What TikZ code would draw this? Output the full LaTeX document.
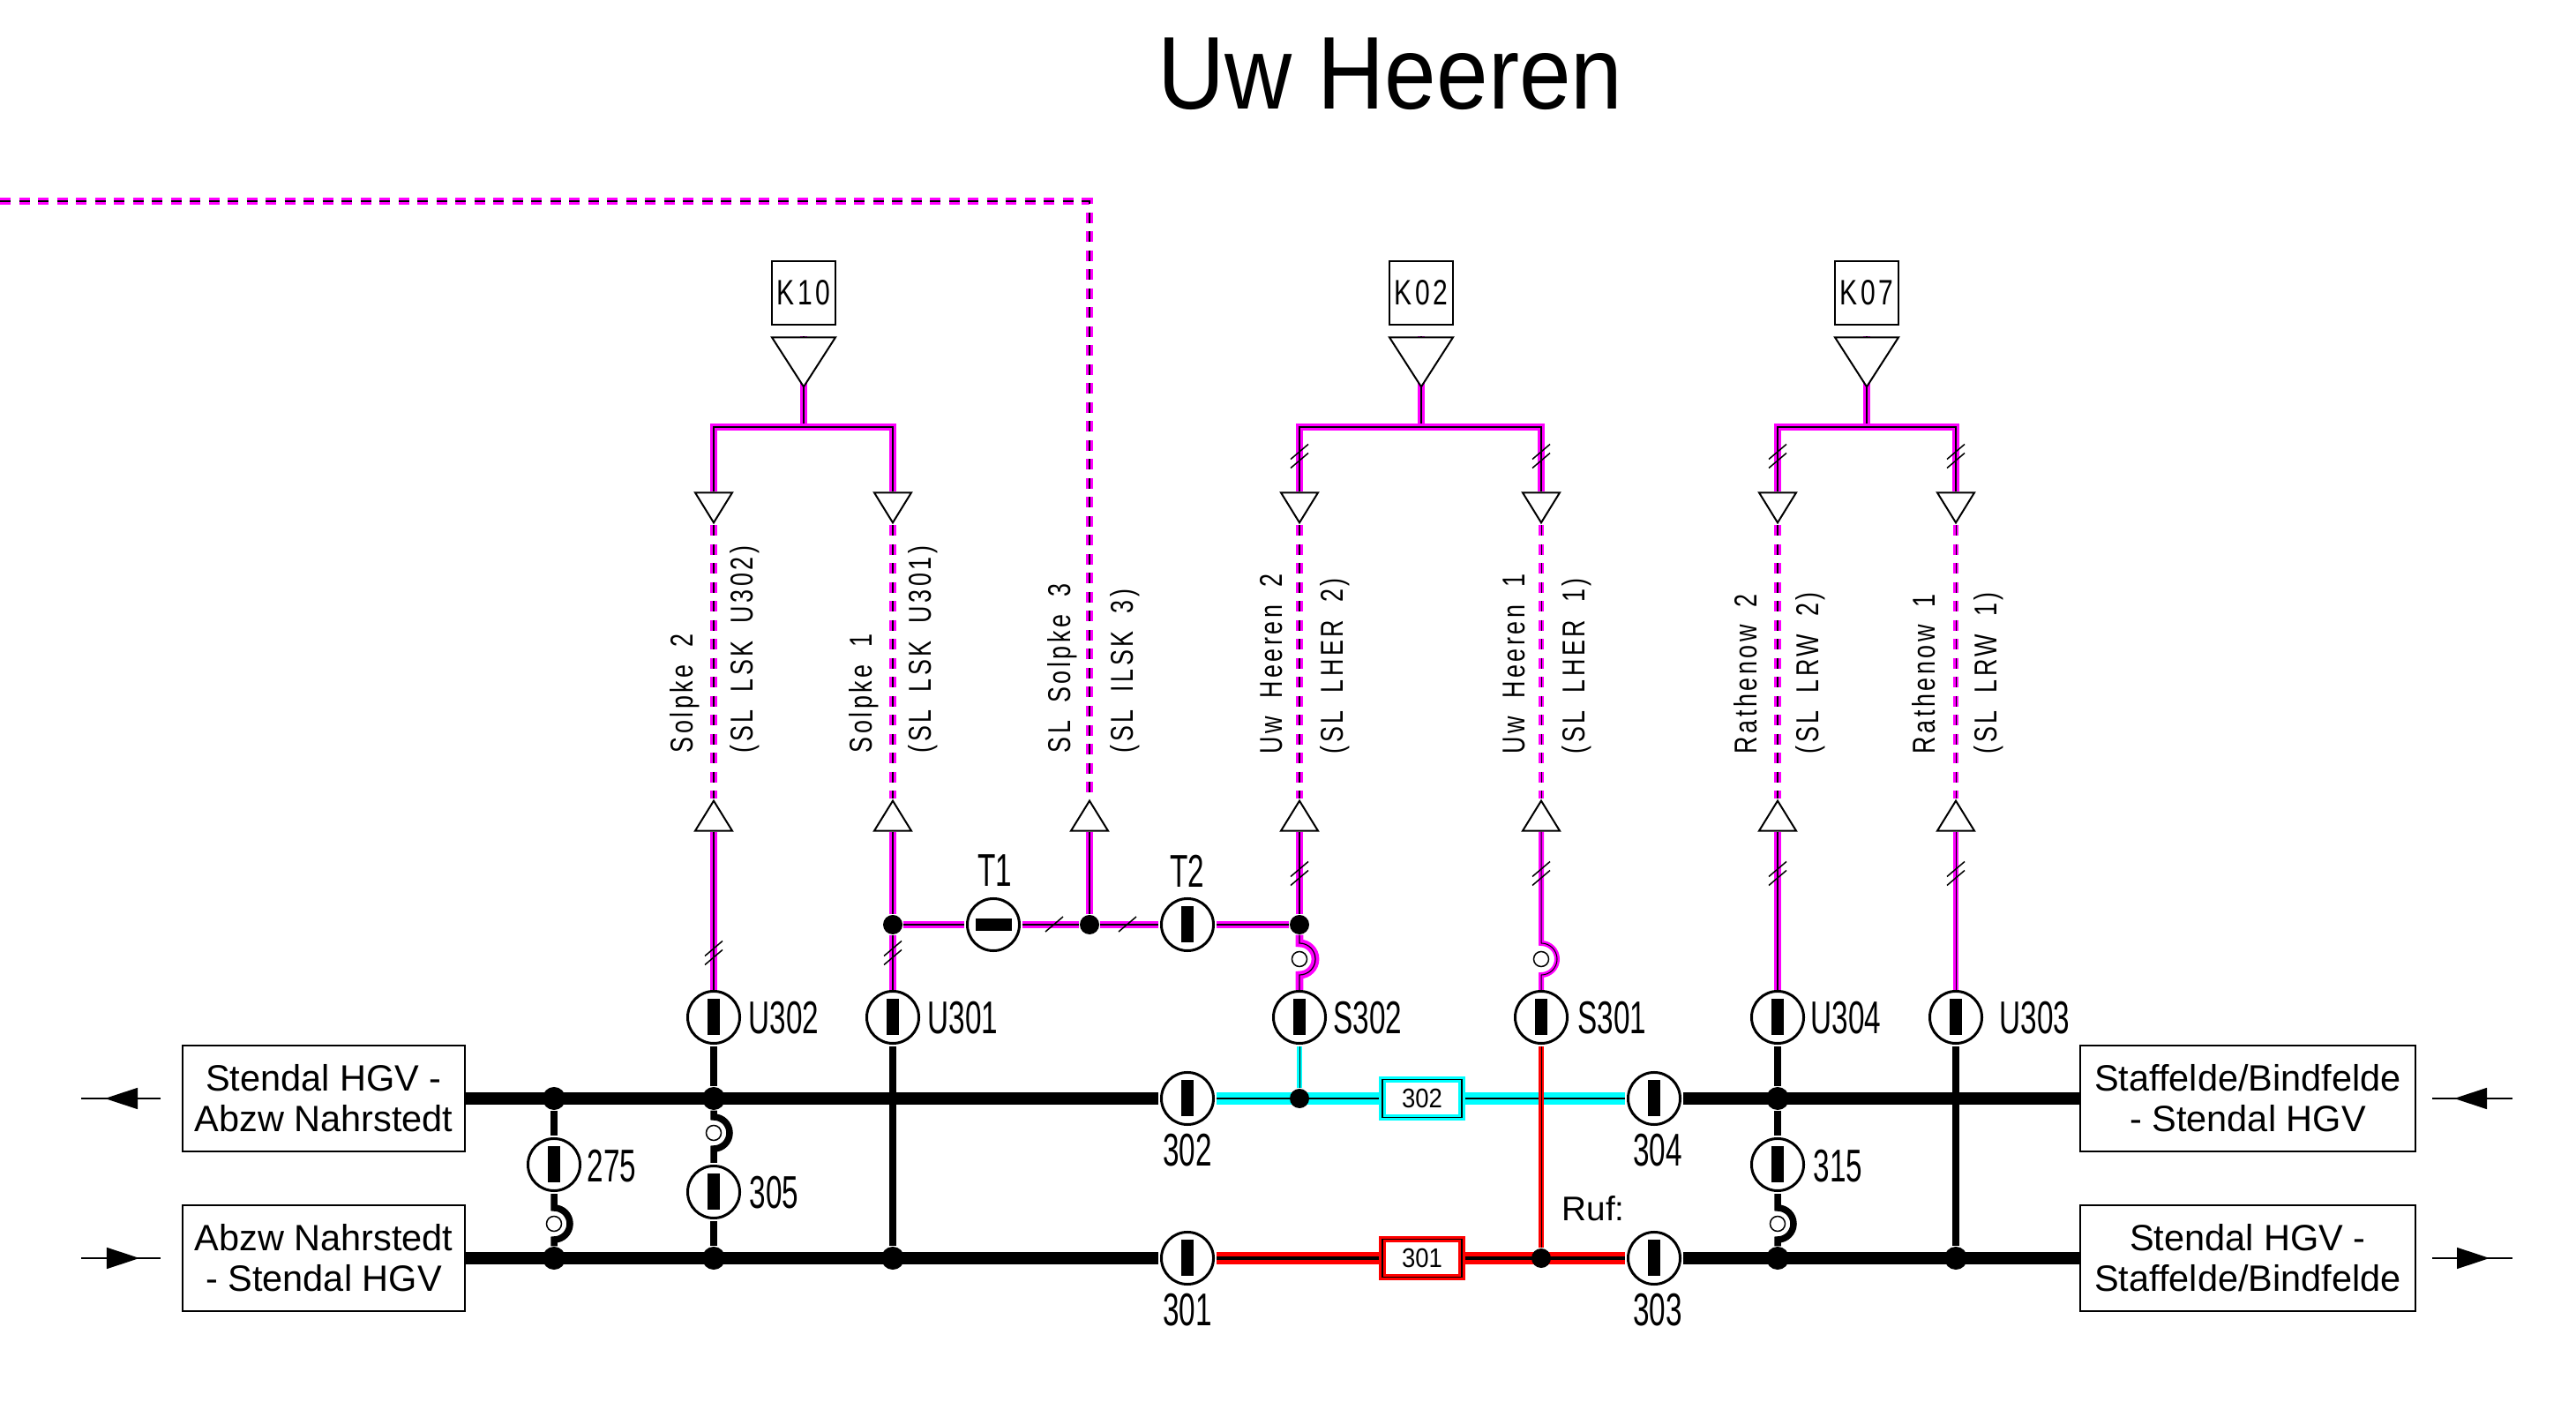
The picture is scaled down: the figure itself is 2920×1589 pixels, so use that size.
\documentclass[tikz,border=0pt]{standalone}
\usepackage{fontspec}
\usetikzlibrary{shapes.geometric,arrows.meta,backgrounds}
\setmainfont{Liberation Sans}
\newfontfamily\narrowfont[FakeStretch=0.64]{Liberation Sans}
\newfontfamily\semifont[FakeStretch=0.9]{Liberation Sans}
\newfontfamily\railfont[FakeStretch=0.75,LetterSpace=10,WordSpace=1.8]{Liberation Sans}
\newfontfamily\kfont[FakeStretch=0.75,LetterSpace=9]{Liberation Sans}
\definecolor{mgcol}{RGB}{255,0,255}
\definecolor{cycol}{RGB}{0,255,255}
\definecolor{rdcol}{RGB}{255,0,0}
\newcommand{\ringline}[4]{\draw[#1] (#2) -- ([yshift=0.18cm]#3.center) arc[start angle=90,end angle=-90,radius=0.18cm] -- (#4);}
\tikzset{
  swv/.style={circle,draw,fill=white,line width=0.03cm,minimum size=0.59cm,inner sep=0pt,outer sep=0.035cm,
    path picture={\fill[black] (path picture bounding box.center) ++(-7,-20.5) rectangle ++(14,41);}},
  swh/.style={circle,draw,fill=white,line width=0.03cm,minimum size=0.59cm,inner sep=0pt,outer sep=0.035cm,
    path picture={\fill[black] (path picture bounding box.center) ++(-20.5,-7) rectangle ++(41,14);}},
  dot/.style={circle,fill=black,minimum size=0.22cm,inner sep=0pt},
  dottrack/.style={circle,fill=black,minimum size=0.26cm,inner sep=0pt},
  ring/.style={circle,draw,fill=white,line width=0.015cm,minimum size=0.17cm,inner sep=0pt},
  stnbox/.style={draw,fill=white,line width=0.025cm,minimum width=3.2cm,minimum height=1.2cm,align=center,inner sep=0pt,font=\fontsize{11.8}{13}\selectfont},
  stnboxr/.style={stnbox,minimum width=3.8cm},
  kbox/.style={draw,fill=white,line width=0.02cm,minimum width=0.72cm,minimum height=0.72cm,inner sep=0pt,font=\kfont\fontsize{11.4}{13}\selectfont},
  trunk/.style={isosceles triangle,isosceles triangle stretches,shape border rotate=-90,draw,fill=white,line width=0.02cm,minimum width=0.72cm,minimum height=0.56cm,inner sep=0pt,anchor=apex},
  tridown/.style={isosceles triangle,isosceles triangle stretches,shape border rotate=-90,draw,fill=white,line width=0.02cm,minimum width=0.42cm,minimum height=0.34cm,inner sep=0pt,anchor=apex},
  triup/.style={isosceles triangle,isosceles triangle stretches,shape border rotate=90,draw,fill=white,line width=0.02cm,minimum width=0.42cm,minimum height=0.34cm,inner sep=0pt,anchor=apex},
  lab/.style={inner sep=0pt,font=\narrowfont\fontsize{14.8}{17}\selectfont},
  raillab/.style={rotate=90,anchor=base west,inner sep=0pt,font=\railfont\fontsize{10.2}{12}\selectfont},
  cybox/.style={draw=cycol,double=black,double distance=0.012cm,line width=0.03cm,fill=white,minimum width=0.9cm,minimum height=0.43cm,inner sep=0pt,font=\semifont\fontsize{8.7}{10}\selectfont},
  rdbox/.style={cybox,draw=rdcol},
  track/.style={line width=0.14cm},
  branch/.style={line width=0.075cm},
  mgline/.style={draw=mgcol,double=black,double distance=0.012cm,line width=0.038cm},
  mgthin/.style={draw=mgcol,double=black,double distance=0.01cm,line width=0.025cm},
  mgdash/.style={mgline,dash pattern=on 0.12cm off 0.095cm},
  mgthindash/.style={mgthin,dash pattern=on 0.12cm off 0.095cm},
  tosw/.style={shorten >=-0.02cm},
  cytrack/.style={draw=cycol,double=black,double distance=0.014cm,line width=0.063cm},
  cybranch/.style={draw=cycol,double=black,double distance=0.01cm,line width=0.025cm},
  rdtrack/.style={draw=rdcol,double=black,double distance=0.03cm,line width=0.055cm},
  rdbranch/.style={draw=rdcol,double=black,double distance=0.01cm,line width=0.025cm},
  dirline/.style={line width=0.015cm},
  dirtip/.style={dirline,-{Triangle[length=0.37cm,width=0.24cm]}},
  tick/.style={line width=0.015cm}
}
\begin{document}
\begin{tikzpicture}[x=0.01cm,y=-0.01cm]
    \useasboundingbox (0,0) rectangle (2920,1589);
    \node[font=\semifont\fontsize{33.3}{40}\selectfont] (title) at (1576,84) {Uw Heeren};

    % stations
    \node[stnbox] (bhlo) at (367,1245) {Stendal HGV -\\Abzw Nahrstedt};
    \node[stnbox] (bhlu) at (367,1426) {Abzw Nahrstedt\\- Stendal HGV};
    \node[stnboxr] (bhro) at (2548,1245) {Staffelde/Bindfelde\\- Stendal HGV};
    \node[stnboxr] (bhru) at (2548,1426) {Stendal HGV -\\Staffelde/Bindfelde};

    % switches
    \node[swv] (u302) at (809,1153) {};
    \node[swv] (u301) at (1012,1153) {};
    \node[swv] (s302) at (1473,1153) {};
    \node[swv] (s301) at (1747,1153) {};
    \node[swv] (u304) at (2015,1153) {};
    \node[swv] (u303) at (2217,1153) {};
    \node[swh] (t1) at (1126,1048) {};
    \node[swv] (t2) at (1346,1048) {};
    \node[swv] (c302) at (1346,1245) {};
    \node[swv] (c304) at (1875,1245) {};
    \node[swv] (c301) at (1346,1426) {};
    \node[swv] (c303) at (1875,1426) {};
    \node[swv] (c275) at (628,1320) {};
    \node[swv] (c305) at (809,1351) {};
    \node[swv] (c315) at (2015,1320) {};

    % labels of the switches
    \node[lab,anchor=west] (lu302) at (848,1154) {U302};
    \node[lab,anchor=west] (lu301) at (1051,1154) {U301};
    \node[lab,anchor=west] (ls302) at (1511,1154) {S302};
    \node[lab,anchor=west] (ls301) at (1788,1154) {S301};
    \node[lab,anchor=west] (lu304) at (2052,1154) {U304};
    \node[lab,anchor=west] (lu303) at (2266,1154) {U303};
    \node[lab] (lt1) at (1128,987) {T1};
    \node[lab] (lt2) at (1346,987) {T2};
    \node[lab] (l302) at (1346,1304) {302};
    \node[lab] (l304) at (1879,1304) {304};
    \node[lab] (l301) at (1346,1485) {301};
    \node[lab] (l303) at (1879,1485) {303};
    \node[lab,anchor=west] (l275) at (665,1322) {275};
    \node[lab,anchor=west] (l305) at (849,1352) {305};
    \node[lab,anchor=west] (l315) at (2055,1322) {315};
    \node[anchor=west,inner sep=0pt,font=\fontsize{11}{13}\selectfont] (lruf) at (1770,1370) {Ruf:};

    % junctions
    \node[dottrack] (du275) at (628,1245) {};
    \node[dottrack] (du305) at (809,1245) {};
    \node[dottrack] (du315) at (2015,1245) {};
    \node[dottrack] (dl275) at (628,1426) {};
    \node[dottrack] (dl305) at (809,1426) {};
    \node[dottrack] (dl301) at (1012,1426) {};
    \node[dottrack] (dl315) at (2015,1426) {};
    \node[dottrack] (dl303) at (2217,1426) {};
    \node[dot] (dts) at (1012,1048) {};
    \node[dot] (dtm) at (1235,1048) {};
    \node[dot] (dte) at (1473,1048) {};
    \node[dot] (dcy) at (1473,1245) {};
    \node[dot] (drd) at (1747,1426) {};
    \node[ring] (r305) at (809,1284) {};
    \node[ring] (r275) at (628,1387) {};
    \node[ring] (r315) at (2015,1387) {};
    \node[ring] (rs302) at (1473,1087) {};
    \node[ring] (rs301) at (1747,1087) {};

    % track sections
    \node[cybox] (b302) at (1612,1245) {302};
    \node[rdbox] (b301) at (1612,1426) {301};

    % cable heads
    \node[kbox] (k10) at (911,332) {K10};
    \node[kbox] (k02) at (1611,332) {K02};
    \node[kbox] (k07) at (2116,332) {K07};
    \node[trunk] (tk10) at (911,441) {};
    \node[trunk] (tk02) at (1611,441) {};
    \node[trunk] (tk07) at (2116,441) {};
    \coordinate (jk10) at (911,484);
    \coordinate (jk02) at (1611,484);
    \coordinate (jk07) at (2116,484);
    \node[tridown] (ds2) at (809,595) {};
    \node[tridown] (ds1) at (1012,595) {};
    \node[tridown] (dh2) at (1473,595) {};
    \node[tridown] (dh1) at (1747,595) {};
    \node[tridown] (dr2) at (2015,595) {};
    \node[tridown] (dr1) at (2217,595) {};
    \node[triup] (us2) at (809,905) {};
    \node[triup] (us1) at (1012,905) {};
    \node[triup] (us3) at (1235,905) {};
    \node[triup] (uh2) at (1473,905) {};
    \node[triup] (uh1) at (1747,905) {};
    \node[triup] (ur2) at (2015,905) {};
    \node[triup] (ur1) at (2217,905) {};
    \coordinate (west) at (0,228);

    % line names
    \node[raillab] (ns2) at (785,854) {Solpke 2};
    \node[raillab] (ms2) at (853,854) {(SL LSK U302)};
    \node[raillab] (ns1) at (988,854) {Solpke 1};
    \node[raillab] (ms1) at (1055,854) {(SL LSK U301)};
    \node[raillab] (ns3) at (1213,854) {SL Solpke 3};
    \node[raillab] (ms3) at (1284,854) {(SL ILSK 3)};
    \node[raillab] (nh2) at (1453,855) {Uw Heeren 2};
    \node[raillab] (mh2) at (1522,855) {(SL LHER 2)};
    \node[raillab] (nh1) at (1728,855) {Uw Heeren 1};
    \node[raillab] (mh1) at (1796,855) {(SL LHER 1)};
    \node[raillab] (nr2) at (1991,855) {Rathenow 2};
    \node[raillab] (mr2) at (2061,855) {(SL LRW 2)};
    \node[raillab] (nr1) at (2193,855) {Rathenow 1};
    \node[raillab] (mr1) at (2263,855) {(SL LRW 1)};

    % direction arrows
    \coordinate (alo) at (182,1245);
    \coordinate (blo) at (119,1245);
    \coordinate (clo) at (92,1245);
    \coordinate (alu) at (92,1426);
    \coordinate (blu) at (158,1426);
    \coordinate (clu) at (182,1426);
    \coordinate (aro) at (2848,1245);
    \coordinate (bro) at (2782,1245);
    \coordinate (cro) at (2757,1245);
    \coordinate (aru) at (2757,1426);
    \coordinate (bru) at (2822,1426);
    \coordinate (cru) at (2848,1426);
    \draw[dirtip] (alo) -- (blo);
    \draw[dirline] (alo) -- (clo);
    \draw[dirtip] (alu) -- (blu);
    \draw[dirline] (alu) -- (clu);
    \draw[dirtip] (aro) -- (bro);
    \draw[dirline] (aro) -- (cro);
    \draw[dirtip] (aru) -- (bru);
    \draw[dirline] (aru) -- (cru);

    \begin{scope}[on background layer]
    % tracks
    \draw[track] (bhlo.east) -- (c302.west);
    \draw[track] (c304.east) -- (bhro.west);
    \draw[track] (bhlu.east) -- (c301.west);
    \draw[track] (c303.east) -- (bhru.west);
    \draw[cytrack] (c302.east) -- (c304.west);
    \draw[rdtrack] (c301.east) -- (c303.west);
    % branches
    \draw[branch] (u302.south) -- (du305);
    \ringline{branch}{du305}{r305}{c305.north}
    \draw[branch] (c305.south) -- (dl305);
    \draw[branch] (u301.south) -- (dl301);
    \draw[branch] (du275) -- (c275.north);
    \ringline{branch}{c275.south}{r275}{dl275}
    \draw[branch] (u304.south) -- (du315);
    \draw[branch] (du315) -- (c315.north);
    \ringline{branch}{c315.south}{r315}{dl315}
    \draw[branch] (u303.south) -- (dl303);
    \draw[cybranch] (s302.south) -- (dcy);
    \draw[rdbranch] (s301.south) -- (drd);
    % protection lines
    \draw[mgline] (tk10.lower side) -- (jk10);
    \draw[mgline] (tk02.lower side) -- (jk02);
    \draw[mgline] (tk07.lower side) -- (jk07);
    \draw[mgline] (ds2.lower side) |- (jk10) -| (ds1.lower side);
    \draw[mgline] (dh2.lower side) |- (jk02) -| (dh1.lower side);
    \draw[mgline] (dr2.lower side) |- (jk07) -| (dr1.lower side);
    \draw[mgdash] (ds2.apex) -- (us2.apex);
    \draw[mgdash] (ds1.apex) -- (us1.apex);
    \draw[mgdash] (dh2.apex) -- (uh2.apex);
    \draw[mgthindash] (dh1.apex) -- (uh1.apex);
    \draw[mgdash] (dr2.apex) -- (ur2.apex);
    \draw[mgthindash] (dr1.apex) -- (ur1.apex);
    \draw[mgdash] (west) -| (us3.apex);
    \draw[mgline,tosw] (us2.lower side) -- (u302.north);
    \draw[mgline] (us1.lower side) -- (dts);
    \draw[mgline,tosw] (dts) -- (u301.north);
    \draw[mgline] (us3.lower side) -- (dtm);
    \draw[mgline] (uh2.lower side) -- (dte);
    \ringline{mgline,tosw}{dte}{rs302}{s302.north}
    \ringline{mgthin,tosw}{uh1.lower side}{rs301}{s301.north}
    \draw[mgline,tosw] (ur2.lower side) -- (u304.north);
    \draw[mgthin,tosw] (ur1.lower side) -- (u303.north);
    \draw[mgline] (dts) -- (t1);
    \draw[mgline] (t1) -- (dtm);
    \draw[mgline] (dtm) -- (t2);
    \draw[mgline] (t2) -- (dte);
    \end{scope}

    % slashes
    \foreach \px/\py in {809/1080,1012/1080,1473/990,1747/990,2015/990,2217/990,1473/517,1747/517,2015/517,2217/517} {
        \draw[tick] (\px-10,\py+3.5) -- ++(20,-17);
        \draw[tick] (\px-10,\py+13.5) -- ++(20,-17);
    }
    \foreach \px in {1195,1278} {
        \draw[tick] (\px-10,1056) -- ++(20,-17);
    }
\end{tikzpicture}
\end{document}
